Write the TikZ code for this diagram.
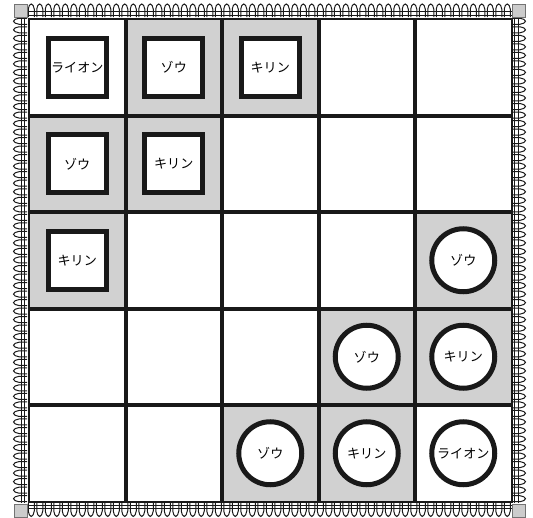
\documentclass[tikz,border=0pt]{standalone}
\usepackage{fontspec}
\newfontfamily\jp{Noto Sans CJK JP}
\begin{document}
\begin{tikzpicture}[x=0.75pt,y=-0.75pt,
  picket/.style={draw=black!90, fill=white, line width=0.75pt},
  rail/.style={draw=black!90, line width=0.75pt},
  cornerbox/.style={draw=black!55, fill=black!20, line width=0.75pt},
  graycell/.style={fill=black!18},
  gridline/.style={line width=3pt, draw=black!90},
  piecefont/.style={font=\jp\fontsize{9.8}{11}\selectfont},
  sqpiece/.style={draw=black!90, fill=white, line width=3.75pt, minimum size=43.5pt, inner sep=0pt, piecefont},
  cpiece/.style={circle, draw=black!90, fill=white, line width=3.75pt, minimum size=47.25pt, inner sep=0pt, piecefont}]
\useasboundingbox (0,0) rectangle (533,518);
% ---- fence: top and bottom
\foreach \i in {0,...,56}{
  \pgfmathsetmacro\a{28.25+\i*8.5}
  \draw[picket] (\a,17) -- (\a,9) .. controls (\a,6) and (\a+2,4) .. (\a+3,4) .. controls (\a+4,4) and (\a+6,6) .. (\a+6,9) -- (\a+6,17);
  \draw[picket] (\a,503) -- (\a,511) .. controls (\a,514) and (\a+2,516.5) .. (\a+3,516.5) .. controls (\a+4,516.5) and (\a+6,514) .. (\a+6,511) -- (\a+6,503);
}
% ---- fence: left and right
\foreach \i in {0,...,56}{
  \pgfmathsetmacro\b{18.25+\i*8.526}
  \draw[picket] (27,\b) -- (19,\b) .. controls (16,\b) and (13.5,\b+2) .. (13.5,\b+3) .. controls (13.5,\b+4) and (16,\b+6) .. (19,\b+6) -- (27,\b+6);
  \draw[picket] (512,\b) -- (520,\b) .. controls (523,\b) and (525.5,\b+2) .. (525.5,\b+3) .. controls (525.5,\b+4) and (523,\b+6) .. (520,\b+6) -- (512,\b+6);
}
\draw[rail] (27,11.5) -- (512,11.5) (27,15) -- (512,15);
\draw[rail] (27,505) -- (512,505) (27,508.5) -- (512,508.5);
\draw[rail] (21,17) -- (21,503) (24.5,17) -- (24.5,503);
\draw[rail] (514.5,17) -- (514.5,503) (518,17) -- (518,503);
\draw[cornerbox] (14,4) rectangle (27,17);
\draw[cornerbox] (512,4) rectangle (525,17);
\draw[cornerbox] (14,504) rectangle (27,517);
\draw[cornerbox] (512,504) rectangle (525,517);
% ---- board
\fill[white] (29,19) rectangle (511.5,501.5);
\foreach \r/\c in {0/1,0/2,1/0,1/1,2/0,2/4,3/3,3/4,4/2,4/3}{
  \fill[graycell] ({29+96.5*\c},{19+96.5*\r}) rectangle ++(96.5,96.5);
}
\foreach \k in {1,2,3,4}{
  \draw[gridline] ({29+96.5*\k},19) -- ({29+96.5*\k},501.5);
  \draw[gridline] (29,{19+96.5*\k}) -- (511.5,{19+96.5*\k});
}
\draw[line width=1.5pt, black!90] (29,19) rectangle (511.5,501.5);
% ---- pieces
\node[sqpiece] (s00) at (77.25,67.25) {ライオン};
\node[sqpiece] (s01) at (173.75,67.25) {ゾウ};
\node[sqpiece] (s02) at (270.25,67.25) {キリン};
\node[sqpiece] (s10) at (77.25,163.75) {ゾウ};
\node[sqpiece] (s11) at (173.75,163.75) {キリン};
\node[sqpiece] (s20) at (77.25,260.25) {キリン};
\node[cpiece] (c24) at (463.25,260.25) {ゾウ};
\node[cpiece] (c33) at (366.75,356.75) {ゾウ};
\node[cpiece] (c34) at (463.25,356.75) {キリン};
\node[cpiece] (c42) at (270.25,453.25) {ゾウ};
\node[cpiece] (c43) at (366.75,453.25) {キリン};
\node[cpiece] (c44) at (463.25,453.25) {ライオン};
\end{tikzpicture}
\end{document}
